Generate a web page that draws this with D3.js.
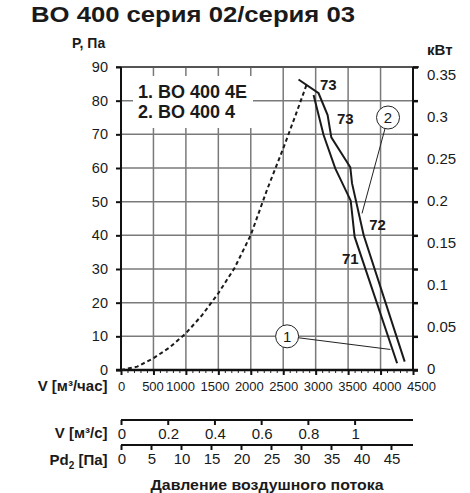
<html>
<head>
<meta charset="utf-8">
<script src="https://d3js.org/d3.v7.min.js"></script>
<style>
body { margin: 0; background: #fff; }
svg { display: block; font-family: 'Liberation Sans', Arial, sans-serif; }
.grid { stroke: #7a7a7a; stroke-width: 1.5; }
.curve { fill: none; stroke: #1a1a1a; stroke-width: 2; }
</style>
</head>
<body>
<svg width="470" height="493"></svg>
<script>

// ---- data ----
var flowTicks = [0, 500, 1000, 1500, 2000, 2500, 3000, 3500, 4000, 4500];
var pressTicks = [0, 10, 20, 30, 40, 50, 60, 70, 80, 90];
var kwTicks = [0, 0.05, 0.1, 0.15, 0.2, 0.25, 0.3, 0.35];
var secTicks = [0, 0.2, 0.4, 0.6, 0.8, 1];
var pdTicks = [0, 5, 10, 15, 20, 25, 30, 35, 40, 45];

var legendNames = ["1. BO 400 4E", "2. BO 400 4"];

// dashed system curve
var sysFlow = [0, 250, 500, 750, 1000, 1250, 1500, 1750, 2000, 2250, 2500, 2700, 2870];
var sysPress = [0, 1, 3.5, 6.7, 10.9, 16.3, 22.8, 30.3, 40.1, 53.5, 65.8, 76.2, 85.3];

// fan curves
var fan1Flow = [2968, 3122, 3302, 3540, 3600, 4255];
var fan1Press = [81.7, 69.8, 59.9, 50.3, 39.6, 2.0];
var fan2Flow = [2736, 3045, 3184, 3241, 3534, 3560, 3740, 4372];
var fan2Press = [86.3, 82.2, 75.7, 69.1, 60.2, 55.5, 40.0, 2.5];

// efficiency labels on the curves
var effText = ["73", "73", "72", "71"];
var effFlow = [3194, 3457, 3955, 3534];
var effPress = [84.6, 74.5, 43, 33];

// numbered callouts: circle position and end of the leader
var calloutText = ["1", "2"];
var calloutFlow = [2560, 4115];
var calloutPress = [10, 75];
var leaderFlow = [4151, 3714];
var leaderPress = [6.1, 46.5];

var svg = d3.select("svg");

var x = d3.scaleLinear().domain([0, 4500]).range([121, 413]);
var y = d3.scaleLinear().domain([0, 90]).range([370, 67]);
var yKw = d3.scaleLinear().domain([0, 0.35]).range([368.5, 74.5]);
var xSec = d3.scaleLinear().domain([0, 1.25]).range([121, 413]);
var xPd = d3.scaleLinear().domain([0, 48.67]).range([121, 413]);
// the flow labels are spread a bit wider than the ticks
var xLab = d3.scaleLinear().domain([0, 500, 1000, 4500]).range([121.5, 153, 180.5, 421.5]);

// title
svg.append("text").attr("x", 31).attr("y", 22)
  .attr("font-size", 22).attr("font-weight", "bold").attr("fill", "#1a1a1a")
  .attr("textLength", 324).attr("lengthAdjust", "spacingAndGlyphs")
  .text("BO 400 серия 02/серия 03");

svg.append("text").attr("x", 72).attr("y", 48)
  .attr("font-size", 14).attr("font-weight", "bold").attr("fill", "#1a1a1a")
  .text("P, Па");
svg.append("text").attr("x", 427).attr("y", 55)
  .attr("font-size", 15).attr("font-weight", "bold").attr("fill", "#1a1a1a")
  .text("кВт");

// grid
svg.append("g").selectAll("line.v").data(flowTicks.slice(1, -1)).enter()
  .append("line").attr("class", "grid")
  .attr("x1", function (d) { return x(d); }).attr("x2", function (d) { return x(d); })
  .attr("y1", y(90)).attr("y2", y(0));
svg.append("g").selectAll("line.h").data(pressTicks.slice(1, -1)).enter()
  .append("line").attr("class", "grid")
  .attr("x1", x(0)).attr("x2", x(4500))
  .attr("y1", function (d) { return y(d); }).attr("y2", function (d) { return y(d); });
// top border
svg.append("line").attr("stroke", "#555").attr("stroke-width", 2)
  .attr("x1", x(0) - 5).attr("x2", x(4500) + 6).attr("y1", y(90)).attr("y2", y(90));

// left axis
var yAxis = svg.append("g").attr("transform", "translate(" + x(0) + ",0)")
  .call(d3.axisLeft(y).tickValues(pressTicks).tickSize(5).tickPadding(8));
yAxis.select(".domain").attr("stroke", "#111").attr("stroke-width", 2).attr("d", "M0," + y(0) + "V" + y(90));
yAxis.selectAll(".tick line").attr("stroke", "#111").attr("stroke-width", 2);
yAxis.selectAll(".tick text").attr("font-size", 14.5).attr("fill", "#1a1a1a").attr("font-family", null);

// right axis (ticks follow the Pa grid, labels follow kW)
var rAxis = svg.append("g").attr("transform", "translate(" + x(4500) + ",0)")
  .call(d3.axisRight(y).tickValues(pressTicks).tickSize(5).tickFormat(""));
rAxis.select(".domain").attr("stroke", "#111").attr("stroke-width", 2).attr("d", "M0," + y(0) + "V" + y(90));
rAxis.selectAll(".tick line").attr("stroke", "#111").attr("stroke-width", 2.5);
svg.append("g").selectAll("text").data(kwTicks).enter().append("text")
  .attr("x", 427).attr("y", function (d) { return yKw(d); }).attr("dy", "0.35em")
  .attr("font-size", 15).attr("fill", "#1a1a1a")
  .text(function (d) { return d3.format("")(+d.toFixed(2)); });

// bottom axis with minor ticks
var minor = d3.range(0, 4501, 100);
var xMinor = svg.append("g").attr("transform", "translate(0," + y(0) + ")")
  .call(d3.axisBottom(x).tickValues(minor).tickSize(3).tickFormat(""));
xMinor.select(".domain").remove();
xMinor.selectAll(".tick line").attr("stroke", "#222").attr("stroke-width", 1);
var xAxis = svg.append("g").attr("transform", "translate(0," + y(0) + ")")
  .call(d3.axisBottom(x).tickValues(flowTicks).tickSize(5).tickFormat(""));
xAxis.select(".domain").attr("stroke", "#111").attr("stroke-width", 2.5)
  .attr("d", "M" + (x(0) - 5) + ",0H" + (x(4500) + 5));
xAxis.selectAll(".tick line").attr("stroke", "#111").attr("stroke-width", 2);
svg.append("g").selectAll("text").data(flowTicks).enter().append("text")
  .attr("x", function (d) { return xLab(d); }).attr("y", 391)
  .attr("text-anchor", "middle").attr("font-size", 13).attr("fill", "#1a1a1a")
  .text(function (d) { return d; });

// legend
var legendBox = svg.append("g");
legendBox.append("rect").attr("x", 133).attr("y", 76).attr("width", 120).attr("height", 52).attr("fill", "#fff");
legendBox.selectAll("text").data(legendNames).enter().append("text")
  .attr("x", 138).attr("y", function (d, i) { return 98 + i * 20; })
  .attr("font-size", 18).attr("font-weight", "bold").attr("fill", "#1a1a1a")
  .text(function (d) { return d; });

// curves
var line = d3.line().x(function (d) { return x(d[0]); }).y(function (d) { return y(d[1]); });
svg.append("path").attr("class", "curve").attr("stroke-dasharray", "4,3")
  .attr("d", line(d3.zip(sysFlow, sysPress)));
svg.append("path").attr("class", "curve").attr("d", line(d3.zip(fan1Flow, fan1Press)));
svg.append("path").attr("class", "curve").attr("d", line(d3.zip(fan2Flow, fan2Press)));

// efficiency labels
svg.append("g").selectAll("text").data(effText).enter().append("text")
  .attr("x", function (d, i) { return x(effFlow[i]); })
  .attr("y", function (d, i) { return y(effPress[i]); }).attr("dy", "0.35em")
  .attr("text-anchor", "middle").attr("font-size", 15).attr("font-weight", "bold").attr("fill", "#1a1a1a")
  .text(function (d) { return d; });

// callouts
var callouts = svg.append("g").selectAll("g").data(calloutText).enter().append("g");
callouts.append("line").attr("stroke", "#222").attr("stroke-width", 1)
  .attr("x1", function (d, i) { return x(calloutFlow[i]); })
  .attr("y1", function (d, i) { return y(calloutPress[i]); })
  .attr("x2", function (d, i) { return x(leaderFlow[i]); })
  .attr("y2", function (d, i) { return y(leaderPress[i]); });
callouts.append("circle").attr("r", 11.5).attr("fill", "#fff").attr("stroke", "#222").attr("stroke-width", 1)
  .attr("cx", function (d, i) { return x(calloutFlow[i]); })
  .attr("cy", function (d, i) { return y(calloutPress[i]); });
callouts.append("text").attr("text-anchor", "middle").attr("dy", "0.36em")
  .attr("font-size", 15).attr("fill", "#1a1a1a")
  .attr("x", function (d, i) { return x(calloutFlow[i]); })
  .attr("y", function (d, i) { return y(calloutPress[i]); })
  .text(function (d) { return d; });

// secondary scales: m3/s and dynamic pressure
function scaleBar(scale, ticks, ypos, fmt) {
  var g = svg.append("g").attr("transform", "translate(0," + ypos + ")")
    .call(d3.axisBottom(scale).tickValues(ticks).tickSize(5).tickFormat(""));
  g.select(".domain").attr("stroke", "#111").attr("stroke-width", 2)
    .attr("d", "M" + x(0) + ",0H" + x(4500));
  g.selectAll(".tick line").attr("stroke", "#111").attr("stroke-width", 2);
  svg.append("g").selectAll("text").data(ticks).enter().append("text")
    .attr("x", function (d) { return scale(d) + 1; }).attr("y", ypos + 18.5)
    .attr("text-anchor", "middle").attr("font-size", 15).attr("fill", "#1a1a1a")
    .text(fmt);
}
scaleBar(xSec, secTicks, 420, function (d) { return d; });
scaleBar(xPd, pdTicks, 445, function (d) { return d; });

// axis names at left
svg.append("text").attr("x", 107.5).attr("y", 391).attr("text-anchor", "end")
  .attr("font-size", 15).attr("font-weight", "bold").attr("fill", "#1a1a1a")
  .text("V [м³/час]");
svg.append("text").attr("x", 107.5).attr("y", 438).attr("text-anchor", "end")
  .attr("font-size", 15).attr("font-weight", "bold").attr("fill", "#1a1a1a")
  .text("V [м³/с]");
var pdLab = svg.append("text").attr("x", 107.5).attr("y", 465).attr("text-anchor", "end")
  .attr("font-size", 15).attr("font-weight", "bold").attr("fill", "#1a1a1a");
pdLab.append("tspan").text("Pd");
pdLab.append("tspan").attr("font-size", 10).attr("dy", 4).text("2");
pdLab.append("tspan").attr("dy", -4).text(" [Па]");

svg.append("text").attr("x", 267).attr("y", 490).attr("text-anchor", "middle")
  .attr("font-size", 15).attr("font-weight", "bold").attr("fill", "#1a1a1a")
  .attr("textLength", 233).attr("lengthAdjust", "spacingAndGlyphs")
  .text("Давление воздушного потока");

</script>
</body>
</html>
